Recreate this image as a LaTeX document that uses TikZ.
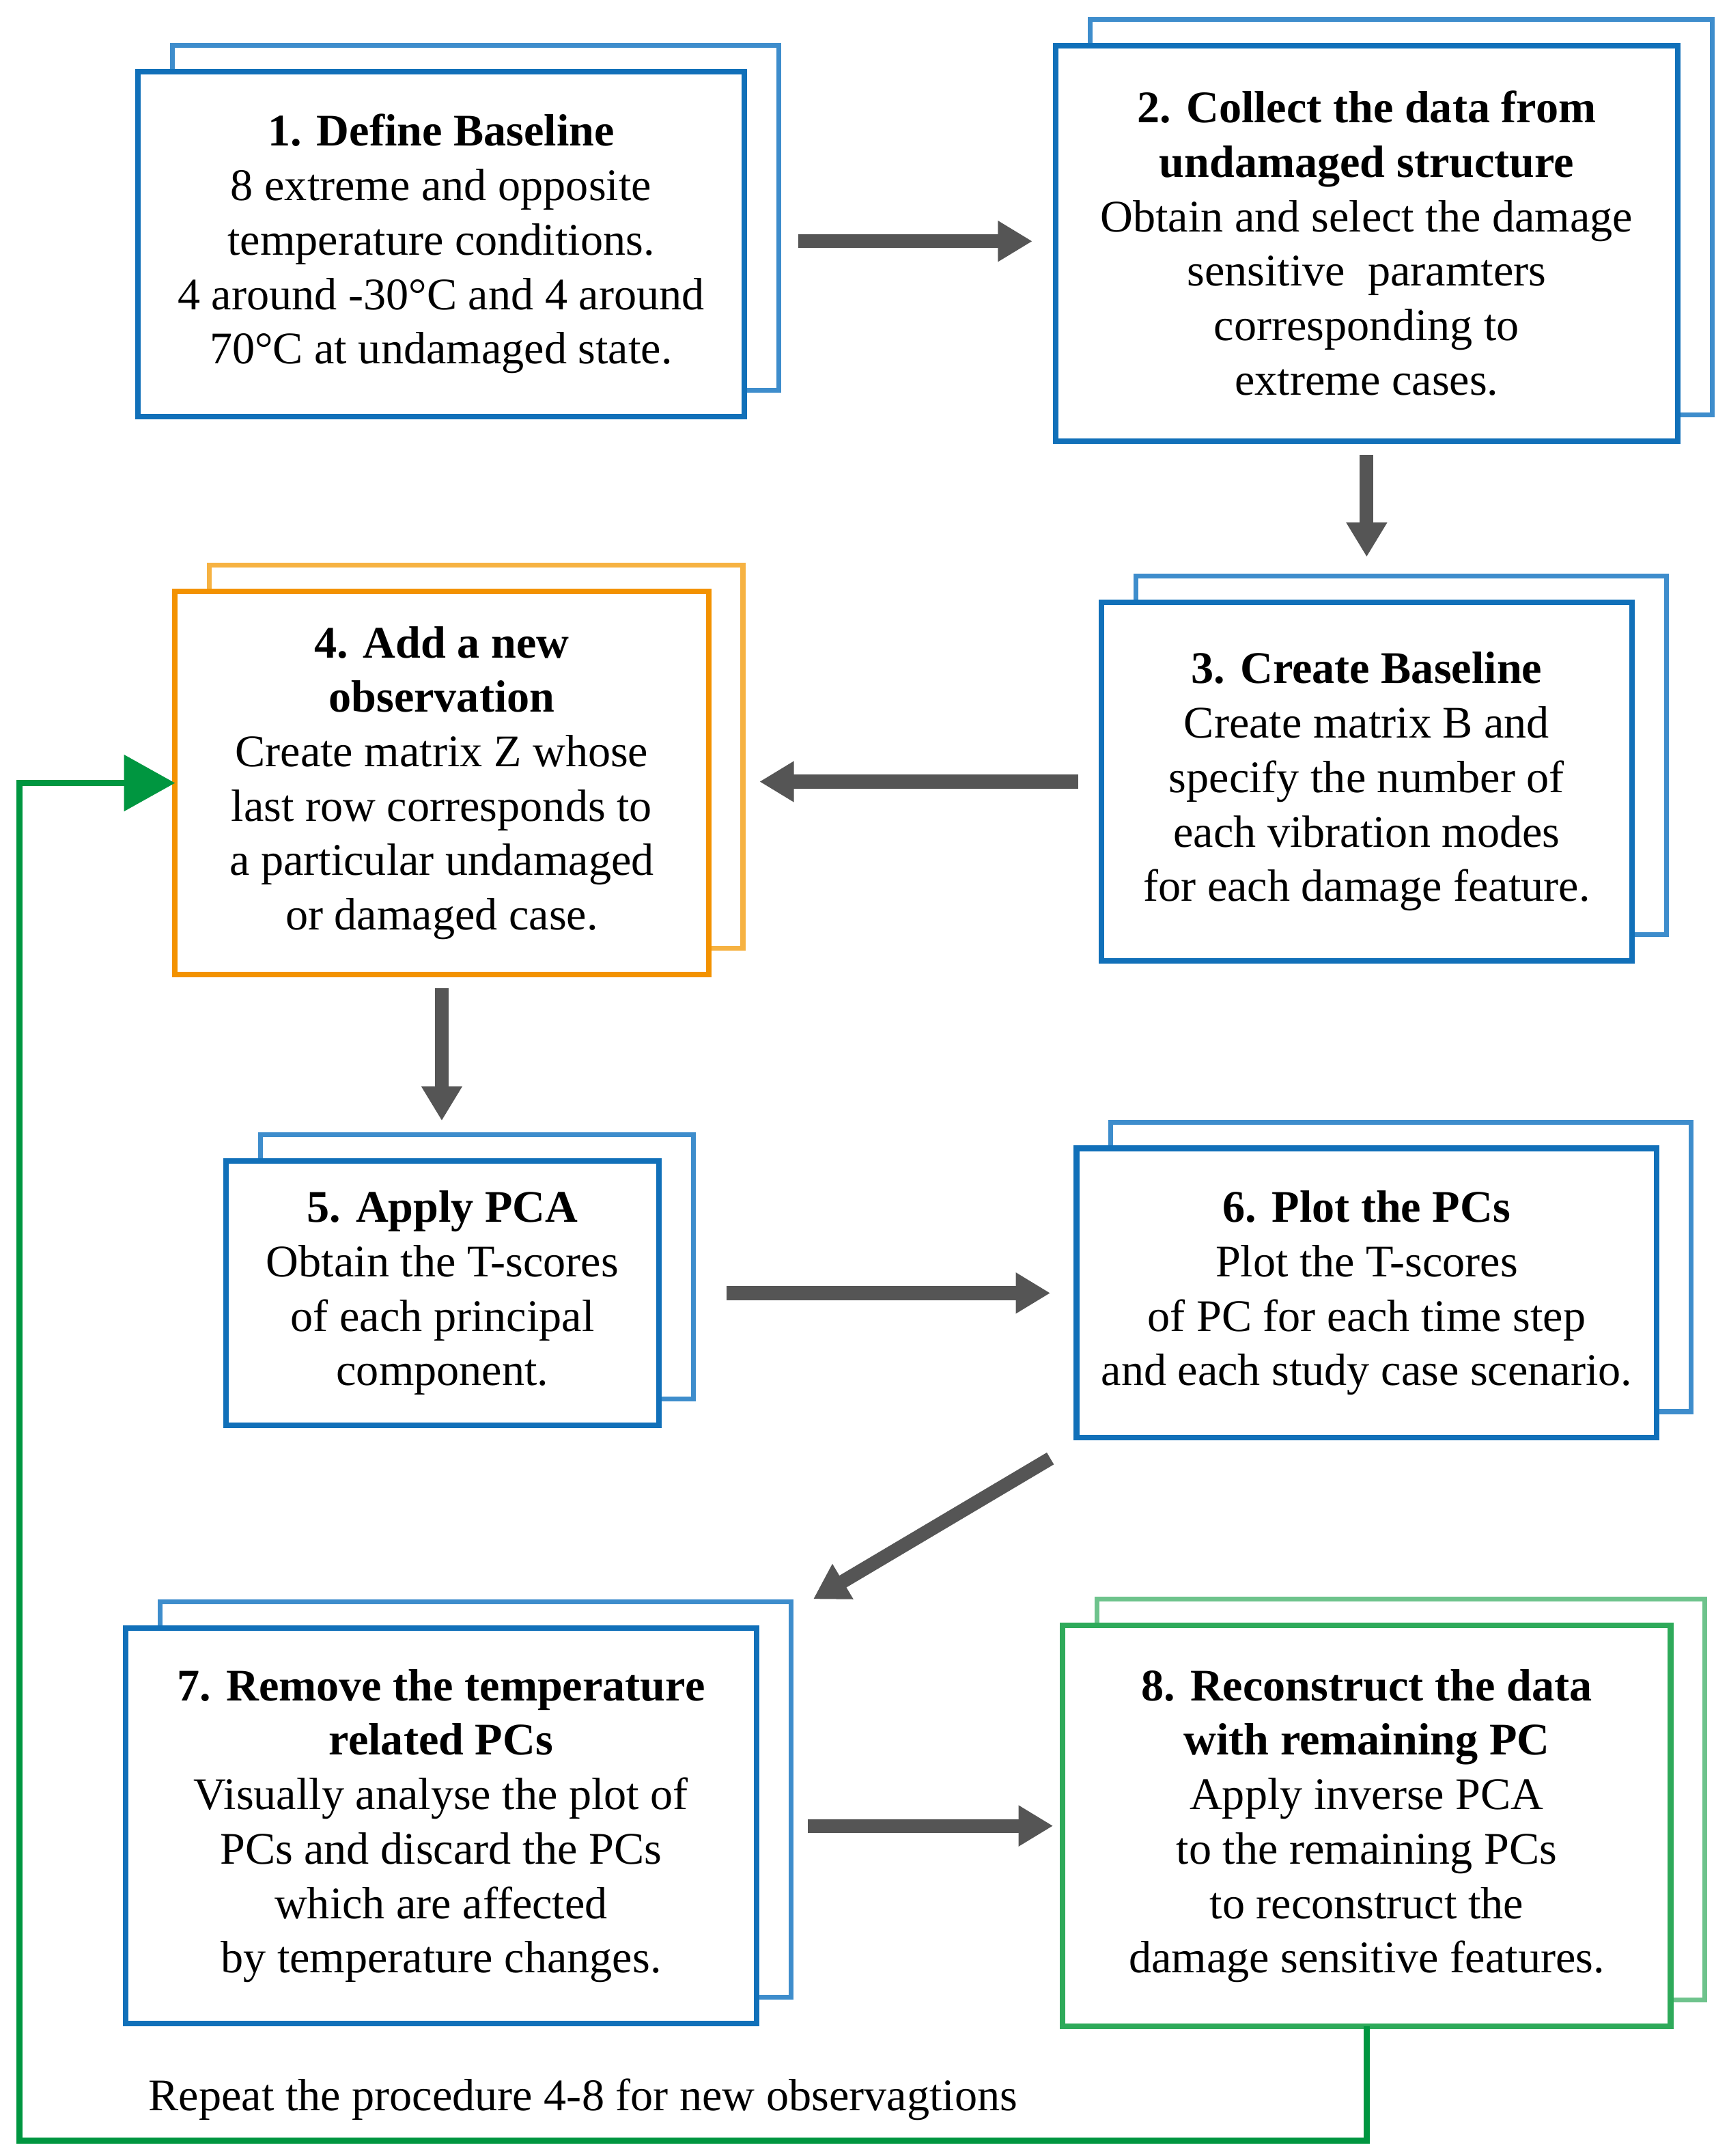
\documentclass[tikz,border=0pt]{standalone}
\usepackage{fontspec}
\setmainfont{Liberation Serif}
\usetikzlibrary{arrows.meta,shadows}
\definecolor{frontblue}{RGB}{17,112,185}
\definecolor{backblue}{RGB}{62,141,204}
\definecolor{frontorange}{RGB}{243,146,0}
\definecolor{backorange}{RGB}{246,178,66}
\definecolor{frontgreen}{RGB}{46,170,90}
\definecolor{backgreen}{RGB}{110,195,140}
\definecolor{loopgreen}{RGB}{0,150,64}
\definecolor{arrowgray}{RGB}{85,85,85}
\tikzset{
  stepbox/.style={draw=frontblue, fill=white, line width=4pt, inner sep=0pt, outer sep=0pt,
    align=center, font=\fontsize{32.8pt}{39.5pt}\selectfont,
    copy shadow={shadow xshift=25pt, shadow yshift=19pt, draw=backblue, fill=white, line width=3.5pt}},
  orangebox/.style={stepbox, draw=frontorange,
    copy shadow={shadow xshift=25pt, shadow yshift=19pt, draw=backorange, fill=white, line width=3.5pt}},
  greenbox/.style={stepbox, draw=frontgreen,
    copy shadow={shadow xshift=25pt, shadow yshift=19pt, draw=backgreen, fill=white, line width=3.5pt}},
  bigarrow/.style={draw=arrowgray, line width=10pt, -{Triangle[length=25pt,width=28pt]}, arrowgray},
  looparrow/.style={draw=loopgreen, line width=4.5pt, -{Triangle[length=37pt,width=40pt]}, loopgreen},
}
\begin{document}
\begin{tikzpicture}[x=1pt,y=-1pt]
\useasboundingbox (0,0) rectangle (1254,1564);
\fill[white] (0,0) rectangle (1254,1564);

\node[stepbox, minimum width=440pt, minimum height=250pt] (b1) at (320,177)
  {\textbf{1. Define Baseline}\\8 extreme and opposite\\temperature conditions.\\4 around -30°C and 4 around\\70°C at undamaged state.};
\node[stepbox, minimum width=451pt, minimum height=287pt] (b2) at (991.5,176.5)
  {\textbf{2. Collect the data from}\\\textbf{undamaged structure}\\Obtain and select the damage\\sensitive\ \ paramters\\corresponding to\\extreme cases.};
\node[stepbox, minimum width=385pt, minimum height=260pt] (b3) at (991.5,567)
  {\textbf{3. Create Baseline}\\Create matrix B and\\specify the number of\\each vibration modes\\for each damage feature.};
\node[orangebox, minimum width=387pt, minimum height=278pt] (b4) at (320.5,568)
  {\textbf{4. Add a new}\\\textbf{observation}\\Create matrix Z whose\\last row corresponds to\\a particular undamaged\\or damaged case.};
\node[stepbox, minimum width=314pt, minimum height=192pt] (b5) at (321,938)
  {\textbf{5. Apply PCA}\\Obtain the T-scores\\of each principal\\component.};
\node[stepbox, minimum width=421pt, minimum height=210pt] (b6) at (991.5,938)
  {\textbf{6. Plot the PCs}\\Plot the T-scores\\of PC for each time step\\and each study case scenario.};
\node[stepbox, minimum width=458pt, minimum height=287pt] (b7) at (320,1324.5)
  {\textbf{7. Remove the temperature}\\\textbf{related PCs}\\Visually analyse the plot of\\PCs and discard the PCs\\which are affected\\by temperature changes.};
\node[greenbox, minimum width=441pt, minimum height=291pt] (b8) at (991.5,1324.5)
  {\textbf{8. Reconstruct the data}\\\textbf{with remaining PC}\\Apply inverse PCA\\to the remaining PCs\\to reconstruct the\\damage sensitive features.};

\draw[bigarrow] ([xshift=39pt,yshift=2pt]b1.east) -- ([xshift=-17pt,yshift=2pt]b2.west |- b1.east);
\draw[bigarrow] ([yshift=-10pt]b2.south) -- ([yshift=33pt]b3.north);
\draw[bigarrow] ([xshift=-17pt]b3.west) -- ([xshift=37pt]b4.east |- b3.west);
\draw[bigarrow] ([yshift=-10pt]b4.south) -- ([yshift=29pt]b5.north -| b4.south);
\draw[bigarrow] ([xshift=49pt]b5.east) -- ([xshift=-19pt]b6.west |- b5.east);
\draw[bigarrow] ([xshift=-19pt,yshift=-15pt]b6.south west) -- ([xshift=41pt,yshift=21pt]b7.north east);
\draw[bigarrow] ([xshift=37pt]b7.east) -- ([xshift=-7pt]b8.west |- b7.east);

\coordinate (lc) at (14,1553);
\draw[looparrow] (b8.south) |- (lc) |- (b4.west);

\node[font=\fontsize{32.8pt}{39.5pt}\selectfont, inner sep=0pt] (lbl) at (423,1523)
  {Repeat the procedure 4-8 for new observagtions};
\end{tikzpicture}
\end{document}
